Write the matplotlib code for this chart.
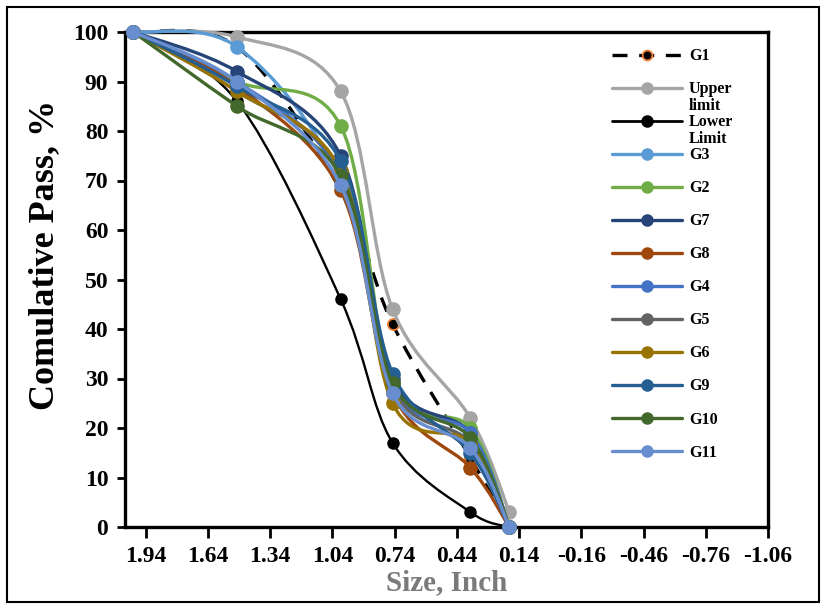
import numpy as np
import matplotlib
matplotlib.use("Agg")
import matplotlib.pyplot as plt
from matplotlib.path import Path
from matplotlib.patches import PathPatch, Rectangle

plt.rcParams['font.family'] = 'Liberation Serif'
plt.rcParams['font.weight'] = 'bold'

# sieve sizes (inch)
sizes = [2.0, 1.5, 1.0, 0.75, 0.375, 0.187]

names = ["G1", "Upper\nlimit", "Lower\nLimit", "G3", "G2", "G7", "G8",
         "G4", "G5", "G6", "G9", "G10", "G11"]
g1 = [100, 97, 68, 41, 14, 0]
upper = [100, 99, 88, 44, 22, 3]
lower = [100, 86, 46, 17, 3, 0]
g3 = [100, 97, 70, 28, 17, 0]
g2 = [100, 90, 81, 29, 20, 0]
g7 = [100, 92, 75, 30, 19, 0]
g8 = [100, 89, 68, 27, 12, 0]
g4 = [100, 90, 71, 28, 19, 0]
g5 = [100, 88, 72, 28, 17, 0]
g6 = [100, 88, 72, 25, 17, 0]
g9 = [100, 89, 74, 31, 15, 0]
g10 = [100, 85, 71, 29, 18, 0]
g11 = [100, 90, 69, 27, 16, 0]
series = [g1, upper, lower, g3, g2, g7, g8, g4, g5, g6, g9, g10, g11]

colors = ["black", "#A5A5A5", "black", "#5B9BD5", "#70AD47", "#264478",
          "#9E480E", "#4472C4", "#636363", "#997300", "#255E91", "#43682B",
          "#698ED0"]

xticks = [1.94, 1.64, 1.34, 1.04, 0.74, 0.44, 0.14, -0.16, -0.46, -0.76, -1.06]
yticks = list(range(0, 101, 10))


def smooth_path(xs, ys):
    # Excel-like smoothed line: cubic bezier through the points
    pts = np.column_stack([xs, ys]).astype(float)
    n = len(pts)
    verts = [pts[0]]
    codes = [Path.MOVETO]
    for i in range(n - 1):
        p0 = pts[max(i - 1, 0)]
        p1 = pts[i]
        p2 = pts[i + 1]
        p3 = pts[min(i + 2, n - 1)]
        verts += [p1 + (p2 - p0) / 6, p2 - (p3 - p1) / 6, p2]
        codes += [Path.CURVE4] * 3
    return Path(verts, codes)


fig = plt.figure(figsize=(8.23, 6.05), dpi=100)
fig.patches.append(Rectangle((7 / 823, 3 / 605), 812 / 823, 595 / 605,
                             transform=fig.transFigure, fill=False,
                             edgecolor="black", linewidth=1.5))
ax = fig.add_axes([125 / 823, 78 / 605, 643 / 823, 495 / 605])

for k, (vals, c) in enumerate(zip(series, colors)):
    z = 4 + k
    if k == 0:
        patch = PathPatch(smooth_path(sizes, vals), facecolor="none", edgecolor=c,
                          linewidth=2.4, linestyle=(0, (4.5, 3.5)), zorder=z)
        ax.add_patch(patch)
        ax.plot(sizes, vals, linestyle="none", marker="o", markersize=8,
                markerfacecolor="black", markeredgecolor="#ED7D31",
                markeredgewidth=1.3, zorder=z, clip_on=False)
    else:
        lw = 1.7 if k == 2 else 2.4
        ms = 8 if k == 2 else 9.5
        patch = PathPatch(smooth_path(sizes, vals), facecolor="none", edgecolor=c,
                          linewidth=lw, zorder=z, capstyle="round")
        ax.add_patch(patch)
        ax.plot(sizes, vals, linestyle="none", marker="o", markersize=ms,
                color=c, zorder=z, clip_on=False)
    patch.set_clip_on(False)

ax.set_xlim(2.04, -1.06)
ax.set_ylim(0, 100)
ax.set_xticks(xticks)
ax.set_xticklabels(["{:.2f}".format(t) for t in xticks])
ax.set_yticks(yticks)
ax.tick_params(axis="x", direction="out", length=8, width=2, labelsize=17, pad=6)
ax.tick_params(axis="y", direction="out", length=6, width=2, labelsize=17, pad=6)
for s in ax.spines.values():
    s.set_linewidth(2.4)
    s.set_zorder(2)

ax.set_xlabel("Size, Inch", fontsize=21, fontweight="bold", color="#7A7A7A",
              labelpad=1)
ax.set_ylabel("Comulative Pass, %", fontsize=26, fontweight="bold")
ax.yaxis.set_label_coords(-0.10, 0.55)

# legend, drawn by hand to keep Excel's wrapped labels
lx0, lx1, ltx = 0.757, 0.866, 0.877
ly, dy = 0.954, 0.0667
for k, (name, c) in enumerate(zip(names, colors)):
    y = ly - k * dy
    if k == 0:
        ax.plot([lx0, lx1], [y, y], color=c, linewidth=2.4,
                linestyle=(0, (4.5, 3.5)), transform=ax.transAxes, clip_on=False)
        ax.plot([(lx0 + lx1) / 2], [y], marker="o", markersize=7,
                markerfacecolor="black", markeredgecolor="#ED7D31",
                markeredgewidth=1.3, transform=ax.transAxes, clip_on=False)
    else:
        ax.plot([lx0, lx1], [y, y], color=c, linewidth=2.4 if k != 2 else 2.0,
                solid_capstyle="round", transform=ax.transAxes, clip_on=False)
        ax.plot([(lx0 + lx1) / 2], [y], marker="o", markersize=8, color=c,
                transform=ax.transAxes, clip_on=False)
    ax.text(ltx, y + 0.013, name, transform=ax.transAxes, fontsize=11.5,
            va="top", ha="left", linespacing=1.05)

fig.savefig("out.png", dpi=100)
